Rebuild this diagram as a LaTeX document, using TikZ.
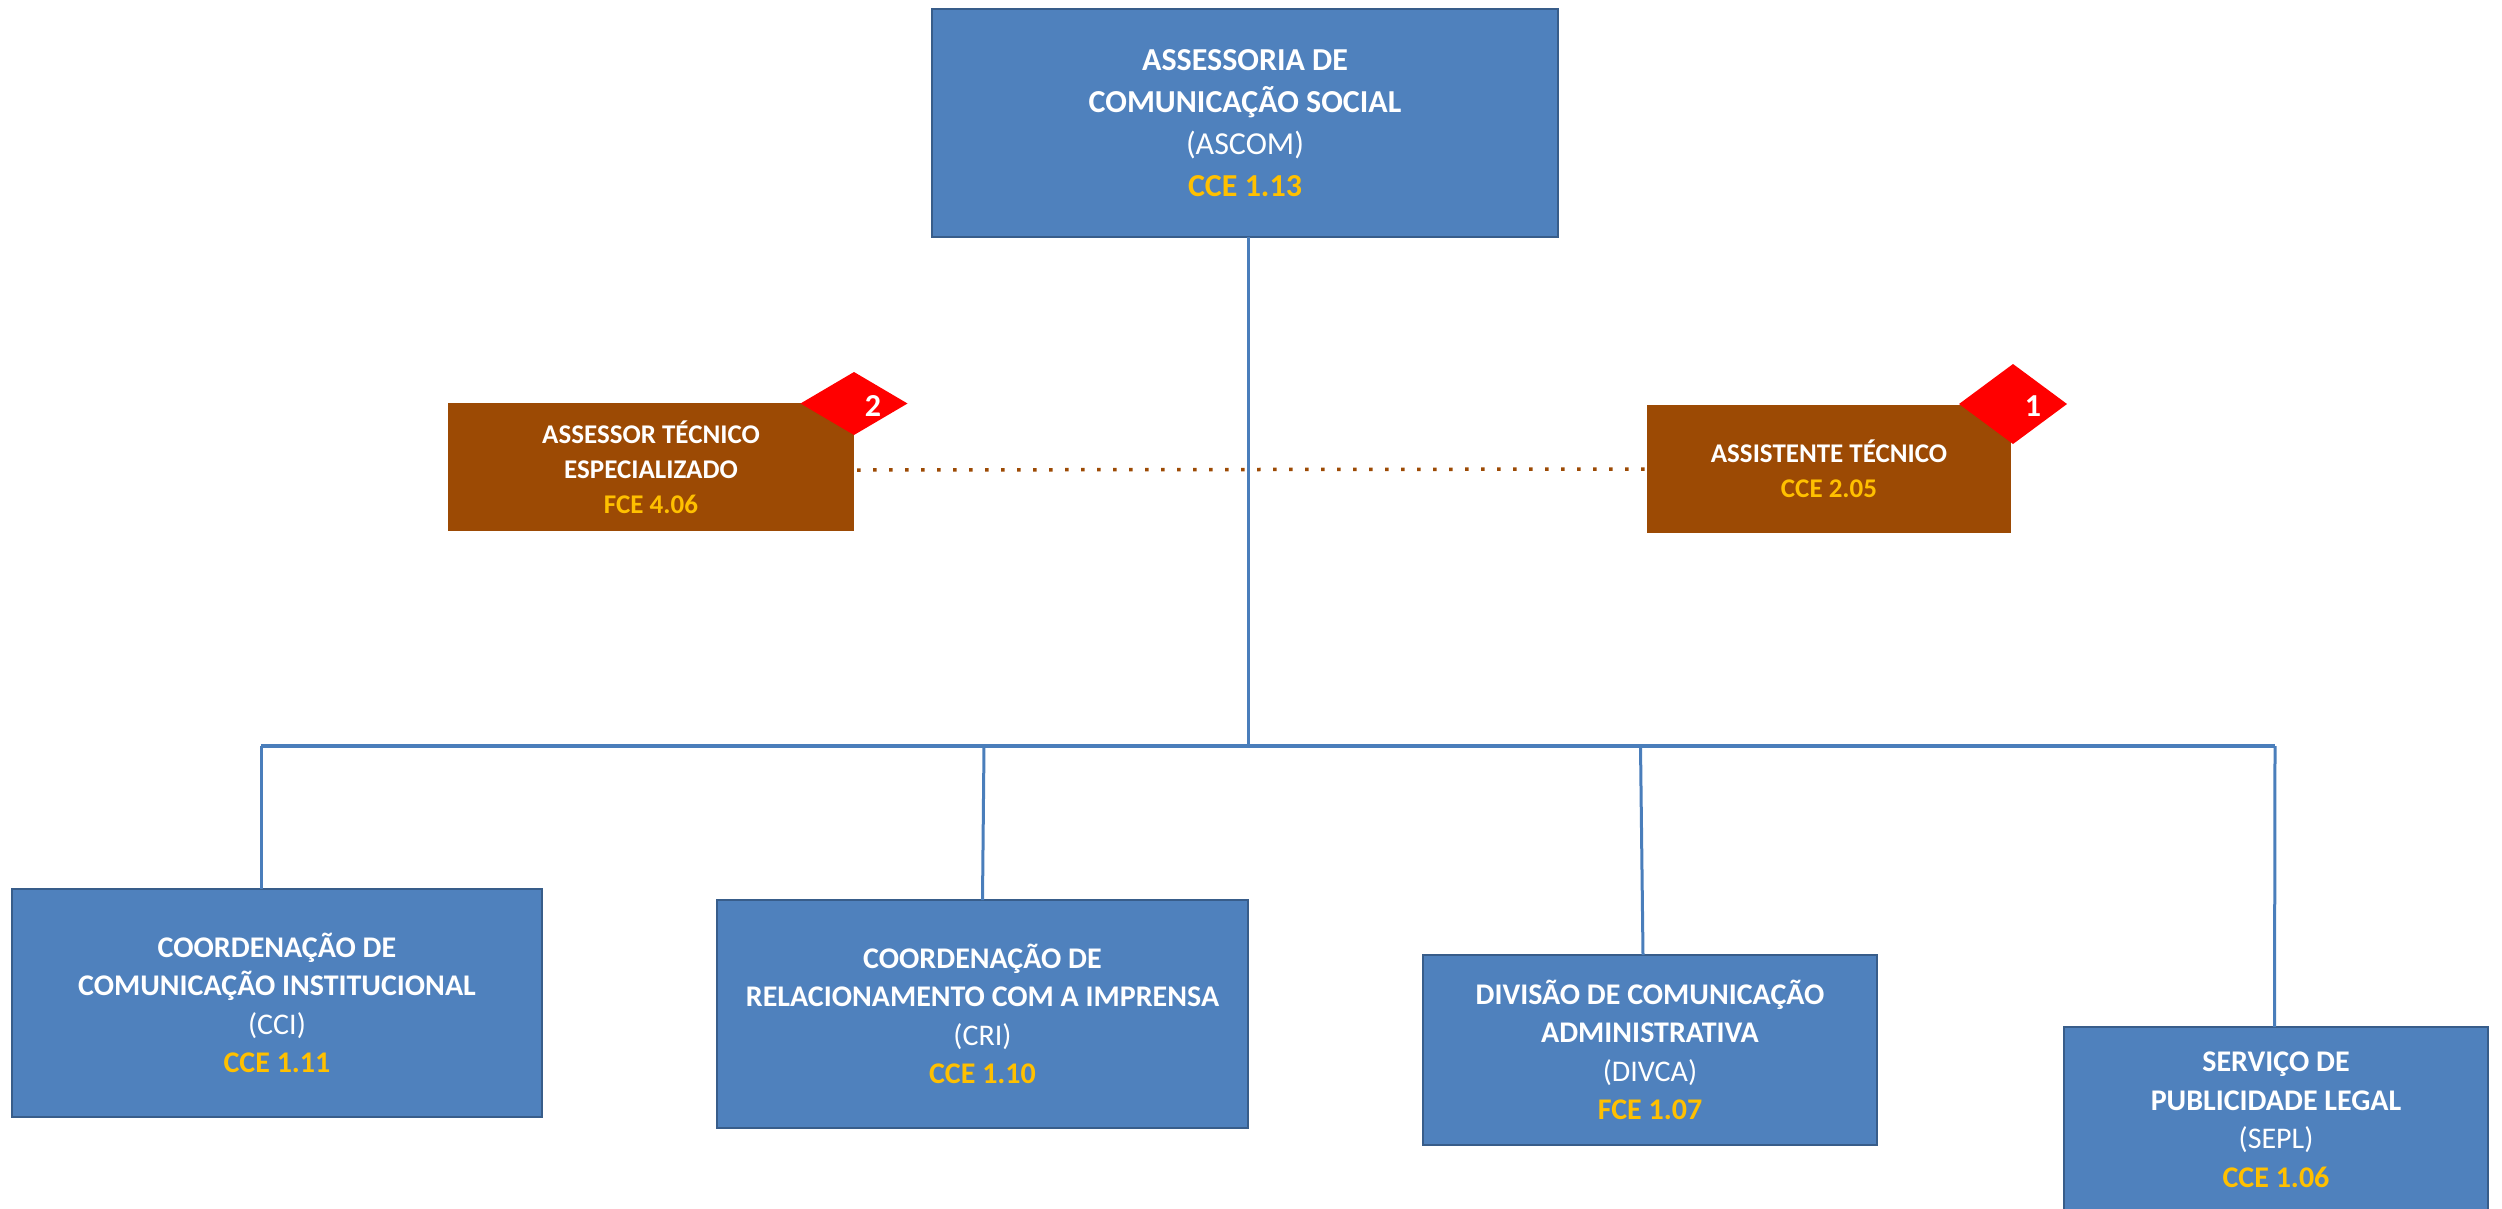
\documentclass[tikz,border=0pt]{standalone}
\usepackage{fontspec}
\setmainfont{Carlito}
\usetikzlibrary{shapes.geometric}
\definecolor{boxblue}{HTML}{4F81BD}
\definecolor{boxedge}{HTML}{385D8A}
\definecolor{linkblue}{HTML}{4A7EBB}
\definecolor{brownbox}{HTML}{9C4A04}
\definecolor{gold}{HTML}{FFC000}
\newcommand{\gd}[1]{\textcolor{gold}{\textbf{#1}}}
\newcommand{\bd}[1]{\textbf{#1}}
\tikzset{
  x=1pt,y=-1pt,
  unit/.style={rectangle,draw=boxedge,line width=2.5pt,fill=boxblue,text=white,align=center,inner sep=0pt,outer sep=0pt},
  bigtext/.style={font=\fontsize{32}{42}\selectfont},
  smalltext/.style={font=\fontsize{30}{38.5}\selectfont},
  staff/.style={rectangle,fill=brownbox,text=white,align=center,inner sep=0pt,outer sep=0pt,font=\fontsize{27}{35}\selectfont},
  badge/.style={diamond,fill=red,inner sep=0pt,outer sep=0pt},
  badgetext/.style={text=white,inner sep=0pt,font=\fontsize{32}{36}\selectfont\bfseries},
  conn/.style={draw=linkblue,line width=3pt},
  busline/.style={draw=linkblue,line width=4pt},
  dotline/.style={draw=brownbox,line width=3.5pt,dash pattern=on 3.5pt off 12.5pt}
}
\begin{document}
\begin{tikzpicture}
\useasboundingbox (0,0) rectangle (2502,1208);
% units
\node[unit,bigtext,minimum width=626pt,minimum height=228pt] (ascom) at (1245,123)
  {\bd{ASSESSORIA DE}\\\bd{COMUNICAÇÃO SOCIAL}\\(ASCOM)\\\gd{CCE 1.13}};
\node[unit,smalltext,minimum width=530pt,minimum height=228pt] (cci) at (277,1003)
  {\bd{COORDENAÇÃO DE}\\\bd{COMUNICAÇÃO INSTITUCIONAL}\\(CCI)\\\gd{CCE 1.11}};
\node[unit,smalltext,minimum width=531pt,minimum height=228pt] (cri) at (982.5,1014)
  {\bd{COORDENAÇÃO DE}\\\bd{RELACIONAMENTO COM A IMPRENSA}\\(CRI)\\\gd{CCE 1.10}};
\node[unit,smalltext,minimum width=454pt,minimum height=190pt] (divca) at (1650,1050)
  {\bd{DIVISÃO DE COMUNICAÇÃO}\\\bd{ADMINISTRATIVA}\\(DIVCA)\\\gd{FCE 1.07}};
\node[unit,smalltext,minimum width=424pt,minimum height=186pt] (sepl) at (2276,1120)
  {\bd{SERVIÇO DE}\\\bd{PUBLICIDADE LEGAL}\\(SEPL)\\\gd{CCE 1.06}};
% staff boxes
\node[staff,minimum width=406pt,minimum height=128pt] (ate) at (651,467)
  {\bd{ASSESSOR TÉCNICO}\\\bd{ESPECIALIZADO}\\\gd{FCE 4.06}};
\node[staff,minimum width=364pt,minimum height=128pt] (ast) at (1829,469)
  {\bd{ASSISTENTE TÉCNICO}\\\gd{CCE 2.05}};
% badges
\node[badge,minimum width=107pt,minimum height=63pt] (b2) at (854,403.5) {};
\node[badgetext] (b2t) at (873,406) {2};
\node[badge,minimum width=108pt,minimum height=80pt] (b1) at (2013,404) {};
\node[badgetext] (b1t) at (2033,406) {1};
% bus
\coordinate (busL) at (261,746);
\coordinate (busR) at (2275,746);
\draw[busline] (busL) -- (busR);
\draw[conn] ([xshift=3.5pt]ascom.south) -- ([xshift=3.5pt]ascom.south |- busL);
\draw[conn] (busL) -- ([xshift=-16pt]cci.north);
\draw[conn] ([xshift=1.5pt]cri.north |- busL) -- (cri.north);
\draw[conn] ([xshift=-9.5pt]divca.north |- busL) -- ([xshift=-7pt]divca.north);
\draw[conn] (busR) -- ([xshift=-1.5pt]sepl.north);
% dotted staff link
\draw[dotline] ([xshift=3pt,yshift=-3pt]ate.east) -- (ast.west);
\end{tikzpicture}
\end{document}
